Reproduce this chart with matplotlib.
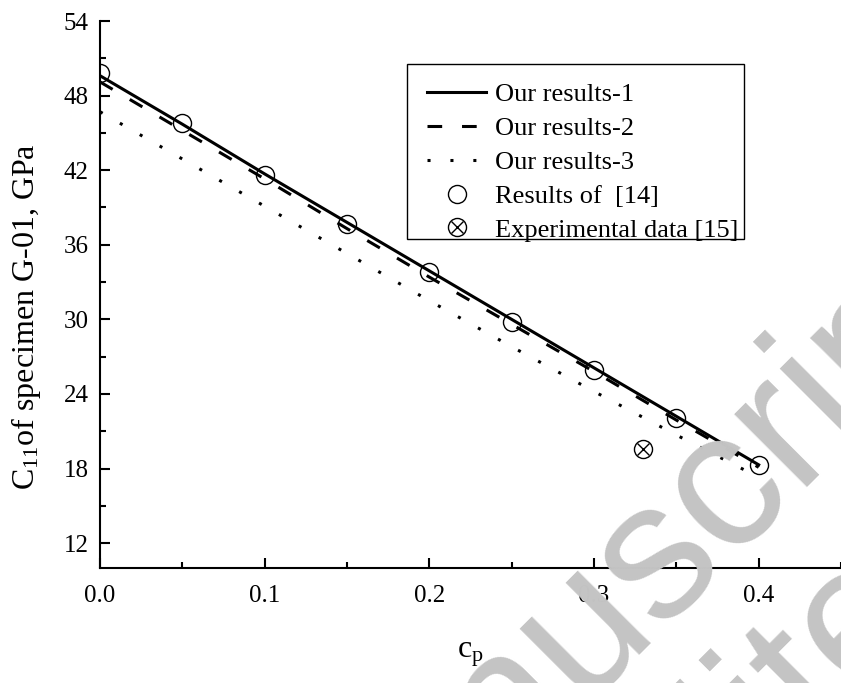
import numpy as np
import matplotlib
matplotlib.use("Agg")
import matplotlib.pyplot as plt
from matplotlib.patches import Rectangle

# ── data ──────────────────────────────────────────────────────────────────────
cp = [0.0, 0.05, 0.10, 0.15, 0.20, 0.25, 0.30, 0.35, 0.40]

ours_1 = [49.6, 45.7, 41.7, 37.8, 33.9, 30.0, 26.1, 22.2, 18.3]
ours_2 = [49.1, 45.2, 41.3, 37.3, 33.4, 29.6, 25.8, 21.9, 18.1]
ours_3 = [46.7, 42.9, 39.1, 35.3, 31.5, 27.8, 24.2, 20.7, 17.3]
ref_14 = [49.8, 45.8, 41.6, 37.7, 33.8, 29.8, 25.9, 22.1, 18.3]

exp_cp  = [0.33]
exp_c11 = [19.6]

yticks = [12, 18, 24, 30, 36, 42, 48, 54]
xticks = [0.0, 0.1, 0.2, 0.3, 0.4]

# ── style ─────────────────────────────────────────────────────────────────────
SERIF = "Liberation Serif"
plt.rcParams.update({
    "font.family": SERIF,
    "mathtext.fontset": "custom",
    "mathtext.rm": SERIF,
    "mathtext.it": SERIF + ":italic",
    "axes.linewidth": 1.5,
})

W, H = 841, 683
L, B, T = 100, 568, 21            # axes box edges in pixels
fig = plt.figure(figsize=(W / 100, H / 100), dpi=100)
ax = fig.add_axes([L / W, (H - B) / H, (W - L) / W, (B - T) / H])


def px(x, y):
    """pixel position (from top-left) -> axes fraction"""
    return (x - L) / (W - L), (B - y) / (B - T)


# watermark behind everything
wm = dict(color="#c4c4c4", fontsize=140, family="Liberation Sans",
          rotation=45, rotation_mode="anchor", ha="left", va="baseline",
          zorder=0)
fig.text(313 / W, (H - 969) / H, "manuscript", **wm)
fig.text(344 / W, (H - 1206) / H, "copyedited", **wm)
ax.set_facecolor("none")

lw = 2.2
ax.plot(cp, ours_1, color="black", lw=lw, ls="-", label="Our results-1", zorder=4)
ax.plot(cp, ours_2, color="black", lw=lw, ls=(0, (4.8, 6.5)),
        label="Our results-2", zorder=4)
ax.plot(cp, ours_3, color="black", lw=lw, ls=(0, (1, 6.5)),
        label="Our results-3", zorder=4)
ax.plot(cp, ref_14, ls="none", marker="o", ms=13, mfc="none", mec="black",
        mew=1.0, label="Results of  [14]", zorder=3)
h_o, = ax.plot(exp_cp, exp_c11, ls="none", marker="o", ms=13, mfc="none",
               mec="black", mew=1.0, zorder=3)
h_x, = ax.plot(exp_cp, exp_c11, ls="none", marker="x", ms=9, mec="black",
               mew=1.0, zorder=3)

handles, labels = ax.get_legend_handles_labels()
handles.append((h_o, h_x))
labels.append("Experimental data [15]")
ax.legend(handles, labels, loc="upper left", bbox_to_anchor=px(427, 83),
          borderaxespad=0, borderpad=0, fontsize=19, handlelength=2.24,
          handletextpad=0.34, labelspacing=0.39, frameon=False)
x0, y0 = px(407, 239)
x1, y1 = px(744, 64)
ax.add_patch(Rectangle((x0, y0), x1 - x0, y1 - y0, transform=ax.transAxes,
                       fill=False, ec="black", lw=1.0, zorder=5))

ax.set_xlim(0, (W - L) / 1650)
ax.set_ylim(10, 54)
ax.spines["top"].set_visible(False)
ax.spines["right"].set_visible(False)

ax.set_xticks(xticks)
ax.set_xticks([0.05, 0.15, 0.25, 0.35, 0.45], minor=True)
ax.set_xticklabels([f"{v:.1f}" for v in xticks])
ax.set_yticks(yticks)
ax.set_yticks([15, 21, 27, 33, 39, 45, 51], minor=True)
ax.tick_params(which="both", direction="in", width=1.5, labelsize=18, pad=8)
ax.tick_params(axis="x", which="both", pad=12)
ax.tick_params(which="major", length=7.5)
ax.tick_params(which="minor", length=4)

ax.set_xlabel(r"$\mathregular{c_p}$", fontsize=23, labelpad=24)
ax.set_ylabel(r"C$_{\mathregular{11}}$of specimen G-01, GPa", fontsize=23)
ax.yaxis.set_label_coords(-0.077, (B - 317) / (B - T))

fig.savefig("out.png", dpi=100)
